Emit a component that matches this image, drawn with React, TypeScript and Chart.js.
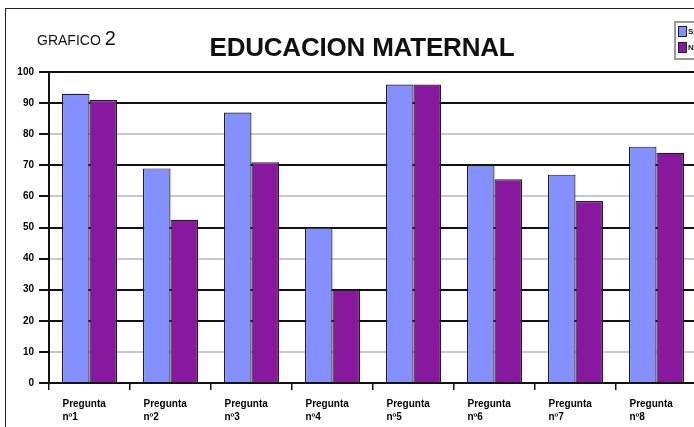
import React, { useEffect, useRef } from 'react';
import { Chart, registerables } from 'chart.js';

Chart.register(...registerables);

const categories: string[][] = [
  ['Pregunta', 'nº1'],
  ['Pregunta', 'nº2'],
  ['Pregunta', 'nº3'],
  ['Pregunta', 'nº4'],
  ['Pregunta', 'nº5'],
  ['Pregunta', 'nº6'],
  ['Pregunta', 'nº7'],
  ['Pregunta', 'nº8'],
];
const seriesNames = ['Si', 'No'];
const siValues = [93, 69, 87, 50, 96, 70, 67, 76];
const noValues = [91, 52.5, 71, 30, 96, 65.5, 58.5, 74];
const yMin = 0;
const yMax = 100;
const yStep = 10;
const darkGridValues = [0, 20, 30, 50, 70, 90, 100];
const titleText = 'EDUCACION MATERNAL';
const chartLabel = 'GRAFICO';
const chartNumber = '2';

const SI_COLOR = '#8490FF';
const NO_COLOR = '#88189E';

export default function App() {
  const ref = useRef<HTMLCanvasElement | null>(null);

  useEffect(() => {
    document.body.style.overflow = 'hidden';
    const canvas = ref.current;
    if (!canvas) return;
    const chart = new Chart(canvas, {
      type: 'bar',
      data: {
        labels: categories,
        datasets: [
          {
            label: seriesNames[0],
            data: siValues,
            backgroundColor: SI_COLOR,
            borderColor: '#1e1e1e',
            borderWidth: 1.2,
          },
          {
            label: seriesNames[1],
            data: noValues,
            backgroundColor: NO_COLOR,
            borderColor: '#1e1e1e',
            borderWidth: 1.2,
          },
        ],
      },
      options: {
        responsive: false,
        animation: false,
        layout: { padding: { left: 0, right: 23, top: 72, bottom: 0 } },
        plugins: {
          legend: { display: false },
          title: { display: false },
          tooltip: { enabled: false },
        },
        datasets: {
          bar: { barPercentage: 1, categoryPercentage: 0.68 },
        },
        scales: {
          x: {
            offset: true,
            grid: {
              offset: true,
              drawOnChartArea: false,
              drawTicks: true,
              tickLength: 7,
              color: '#111',
              lineWidth: 1.5,
            },
            border: { display: true, color: '#111', width: 2 },
            ticks: {
              autoSkip: false,
              maxRotation: 0,
              minRotation: 0,
              align: 'start',
              labelOffset: -27,
              padding: 8,
              color: '#000',
              font: { family: 'Arial, "Liberation Sans", sans-serif', size: 10, weight: 'bold', lineHeight: 1.3 },
            },
            afterFit: (scale: any) => {
              scale.height = 44;
            },
          },
          y: {
            min: yMin,
            max: yMax,
            ticks: {
              stepSize: yStep,
              padding: 5,
              color: '#000',
              font: { family: 'Arial, "Liberation Sans", sans-serif', size: 10, weight: 'bold' },
            },
            grid: {
              drawTicks: true,
              tickLength: 10,
              color: (ctx: any) =>
                darkGridValues.includes(ctx.tick?.value) ? '#111' : '#c8c8c8',
              tickColor: '#111',
              lineWidth: 2,
            },
            border: { display: true, color: '#111', width: 2 },
            afterFit: (scale: any) => {
              scale.width = 49;
            },
          },
        },
      },
    });
    return () => chart.destroy();
  }, []);

  return (
    <div
      style={{
        position: 'fixed',
        left: 0,
        top: 0,
        width: 694,
        height: 427,
        overflow: 'hidden',
        background: '#fff',
        fontFamily: 'Arial, "Liberation Sans", sans-serif',
      }}
    >
      <div
        style={{
          position: 'absolute',
          left: 5,
          top: 8,
          width: 800,
          height: 600,
          borderLeft: '1.5px solid #222',
          borderTop: '1.5px solid #222',
        }}
      />
      <canvas
        ref={ref}
        width={720}
        height={427}
        style={{ position: 'absolute', left: 0, top: 0, width: 720, height: 427 }}
      />
      <div
        style={{
          position: 'absolute',
          left: 37,
          top: 28,
          whiteSpace: 'nowrap',
          color: '#111',
          lineHeight: 1,
        }}
      >
        <span style={{ fontSize: 14 }}>{chartLabel} </span>
        <span style={{ fontSize: 20 }}>{chartNumber}</span>
      </div>
      <div
        style={{
          position: 'absolute',
          left: 0,
          width: 724,
          top: 34,
          textAlign: 'center',
          fontSize: 26,
          fontWeight: 'bold',
          color: '#111',
          lineHeight: 1,
          whiteSpace: 'nowrap',
          letterSpacing: -0.2,
        }}
      >
        {titleText}
      </div>
      <div
        style={{
          position: 'absolute',
          left: 674,
          top: 21,
          width: 40,
          height: 35,
          border: '2px solid #999',
          background: '#fff',
        }}
      >
        {[SI_COLOR, NO_COLOR].map((c, i) => (
          <div
            key={i}
            style={{ position: 'absolute', left: 2, top: 3 + i * 16, display: 'flex', alignItems: 'center' }}
          >
            <div style={{ width: 7, height: 9, background: c, border: '1px solid #222' }} />
            <span style={{ fontSize: 8, fontWeight: 'bold', marginLeft: 1, color: '#111' }}>
              {seriesNames[i]}
            </span>
          </div>
        ))}
      </div>
    </div>
  );
}
